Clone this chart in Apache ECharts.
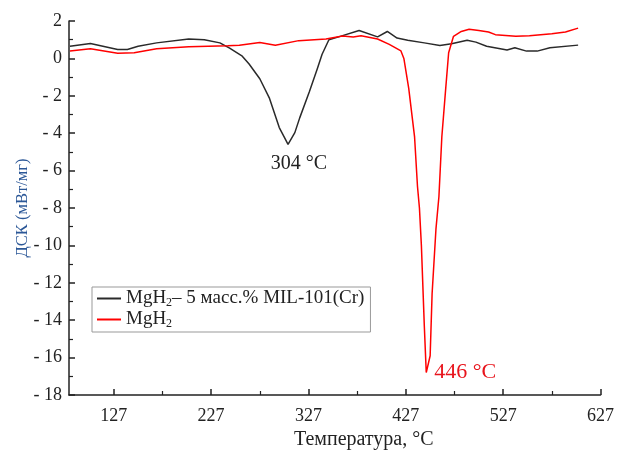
<!DOCTYPE html>
<html>
<head>
<meta charset="utf-8">
<script src="https://cdn.jsdelivr.net/npm/echarts@6/dist/echarts.min.js"></script>
<style>
  html, body { margin: 0; padding: 0; background: #fff; }
  #chart { width: 617px; height: 455px; }
</style>
</head>
<body>
<div id="chart"></div>
<script>
// DSC curves, temperature in °C, signal in mW/mg
var mgh2MilTemp = [82, 103, 131, 141, 152, 171, 204, 220, 236, 246, 259, 266, 277, 287, 297, 302, 306,
    313, 318, 328, 336, 341, 348, 358, 379, 398, 408, 418, 429, 446, 462, 474, 490, 499, 510, 531, 539,
    551, 562, 575, 604];
var mgh2MilDsc = [0.65, 0.8, 0.48, 0.48, 0.65, 0.83, 1.04, 1.0, 0.83, 0.55, 0.12, -0.3, -1.09, -2.14, -3.7,
    -4.2, -4.6, -3.97, -3.18, -1.77, -0.57, 0.22, 1.0, 1.15, 1.49, 1.15, 1.44, 1.09, 0.97, 0.83, 0.69,
    0.78, 0.97, 0.87, 0.65, 0.45, 0.57, 0.39, 0.39, 0.57, 0.71];

var mgh2Temp = [82, 103, 131, 148, 171, 204, 244, 256, 277, 293, 317, 345, 362, 373, 381, 398, 410, 422,
    425, 430, 436, 439, 441, 443, 446, 448, 452, 454, 458, 461, 464, 468, 471, 476, 484, 492, 502, 512,
    519, 540, 554, 577, 591, 604];
var mgh2Dsc = [0.39, 0.52, 0.27, 0.3, 0.52, 0.62, 0.68, 0.7, 0.85, 0.7, 0.95, 1.04, 1.2, 1.15, 1.21, 1.04,
    0.75, 0.4, 0.0, -1.6, -4.2, -6.85, -8.0, -10.0, -14.3, -16.8, -15.9, -12.6, -9.1, -7.4, -4.2, -1.6,
    0.3, 1.18, 1.44, 1.56, 1.49, 1.41, 1.27, 1.18, 1.21, 1.32, 1.41, 1.62];

var xMajorTicks = [127, 227, 327, 427, 527, 627];
var xMinorTicks = [177, 277, 377, 477, 577];

var peakMil = [306, -4.6, '304 °C'];
var peakMgh2 = [448, -16.8, '446 °C'];

var serif = 'Liberation Serif';

function pairs(xs, ys) {
    var out = [];
    for (var i = 0; i < xs.length; i++) out.push([xs[i], ys[i]]);
    return out;
}

var chart = echarts.init(document.getElementById('chart'));

chart.setOption({
    animation: false,
    textStyle: { fontFamily: serif },
    grid: { left: 69, right: 15, top: 21, bottom: 52 },
    legend: {
        left: 92, top: 287,
        orient: 'vertical',
        icon: 'rect',
        itemWidth: 24, itemHeight: 2, itemGap: 1,
        padding: [2, 6, 2, 5],
        borderColor: '#999', borderWidth: 1,
        textStyle: {
            fontFamily: serif, fontSize: 19, color: '#222',
            rich: {
                b: { fontFamily: serif, fontSize: 19, color: '#222' },
                s: { fontFamily: serif, fontSize: 12, color: '#222', verticalAlign: 'bottom', padding: [9, 0, 0, 0] }
            }
        },
        formatter: function (name) {
            return name.replace('MgH2', '{b|MgH}{s|2}{b|').replace(/$/, '}');
        },
        data: ['MgH2– 5 масс.% MIL-101(Cr)', 'MgH2']
    },
    xAxis: [{
        type: 'value', min: 81, max: 627,
        name: 'Температура, °C', nameLocation: 'middle', nameGap: 35,
        nameTextStyle: { fontFamily: serif, fontSize: 20, color: '#222', padding: [0, 0, 0, 58] },
        axisLine: { onZero: false, lineStyle: { color: '#222', width: 1.5 } },
        axisTick: { inside: true, length: 6, customValues: xMajorTicks, lineStyle: { color: '#222', width: 1.5 } },
        axisLabel: { customValues: xMajorTicks, margin: 12, fontSize: 18, color: '#222', fontFamily: serif },
        splitLine: { show: false }
    }, {
        type: 'value', min: 81, max: 627, position: 'bottom',
        axisLine: { show: false, onZero: false },
        axisTick: { inside: true, length: 4, customValues: xMinorTicks, lineStyle: { color: '#222', width: 1.2 } },
        axisLabel: { show: false },
        splitLine: { show: false }
    }],
    yAxis: {
        type: 'value', min: -18, max: 2, interval: 2,
        name: 'ДСК (мВт/мг)', nameLocation: 'middle', nameGap: 38, nameMoveOverlap: false,
        nameTextStyle: { fontFamily: serif, fontSize: 16.5, color: '#2b5797' },
        axisLine: { show: true, onZero: false, lineStyle: { color: '#222', width: 1.5 } },
        axisTick: { inside: true, length: 6, lineStyle: { color: '#222', width: 1.5 } },
        minorTick: { show: true, splitNumber: 2, length: 4, lineStyle: { color: '#222', width: 1.2 } },
        axisLabel: {
            margin: 7, fontSize: 18, color: '#222', fontFamily: serif,
            formatter: function (v) { return v < 0 ? '- ' + Math.abs(v) : String(v); }
        },
        splitLine: { show: false }
    },
    series: [{
        name: 'MgH2– 5 масс.% MIL-101(Cr)',
        type: 'line', showSymbol: false, symbol: 'none',
        data: pairs(mgh2MilTemp, mgh2MilDsc),
        lineStyle: { color: '#2a2a2a', width: 1.5 },
        itemStyle: { color: '#2a2a2a' },
        markPoint: {
            symbol: 'circle', symbolSize: 0,
            label: {
                show: true, position: 'bottom', distance: 6, offset: [11, 3],
                formatter: peakMil[2], fontFamily: serif, fontSize: 20, color: '#222'
            },
            data: [{ coord: [peakMil[0], peakMil[1]] }]
        }
    }, {
        name: 'MgH2',
        type: 'line', showSymbol: false, symbol: 'none',
        data: pairs(mgh2Temp, mgh2Dsc),
        lineStyle: { color: '#ff0000', width: 1.5 },
        itemStyle: { color: '#ff0000' },
        markPoint: {
            symbol: 'circle', symbolSize: 0,
            label: {
                show: true, position: 'right', distance: 0, offset: [8, 0],
                formatter: peakMgh2[2], fontFamily: serif, fontSize: 22, color: '#e8141c'
            },
            data: [{ coord: [peakMgh2[0], peakMgh2[1]] }]
        }
    }]
});
</script>
</body>
</html>
